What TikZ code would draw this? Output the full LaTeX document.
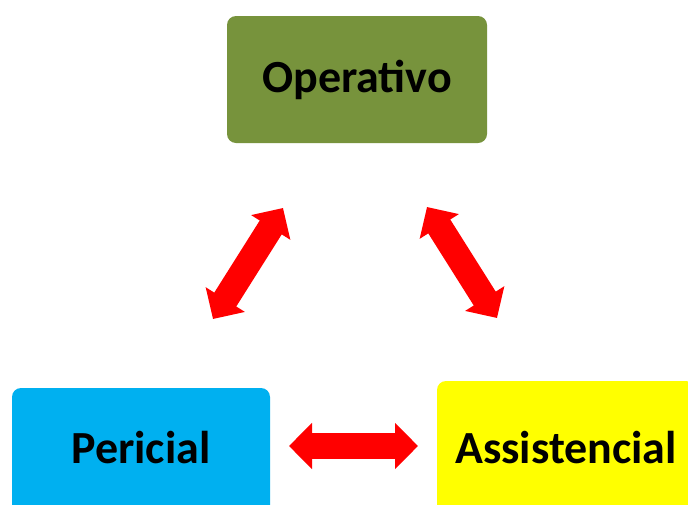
\documentclass[tikz,border=0pt]{standalone}
\usepackage{fontspec}
\setmainfont{Carlito}
\usetikzlibrary{arrows.meta}
\definecolor{olive}{HTML}{77933C}
\definecolor{skyb}{HTML}{00B0F0}
\definecolor{yel}{HTML}{FFFF00}
\definecolor{arrred}{HTML}{FF0000}
\definecolor{arredge}{HTML}{E01010}
\tikzset{
  box/.style={rounded corners=9pt, inner sep=0pt, font=\bfseries\fontsize{46}{54}\selectfont, text=black},
  dblarrow/.style={draw=arredge, line width=26pt, color=arrred,
    {Triangle[width=45pt,length=23pt]}-{Triangle[width=45pt,length=23pt]}}
}
\begin{document}
\begin{tikzpicture}[x=1pt,y=-1pt]
\useasboundingbox[fill=white] (0,0) rectangle (688,504);
\node[box, fill=olive, minimum width=260pt, minimum height=127pt] (op) at (357,79.5) {Operativo};
\node[box, fill=skyb, minimum width=258pt, minimum height=142pt] (pe) at (141,459) {\raisebox{24pt}{Pericial}};
\node[box, fill=yel, minimum width=258pt, minimum height=149pt] (as) at (566,455.5) {\raisebox{17pt}{Assistencial}};
\coordinate (l1) at (213,319);
\coordinate (l2) at (283,208);
\coordinate (r1) at (427,207);
\coordinate (r2) at (497,318);
\coordinate (h1) at (289,446);
\coordinate (h2) at (418,446);
\draw[dblarrow] (l1) -- (l2);
\draw[dblarrow] (r1) -- (r2);
\draw[dblarrow] (h1) -- (h2);
\end{tikzpicture}
\end{document}
